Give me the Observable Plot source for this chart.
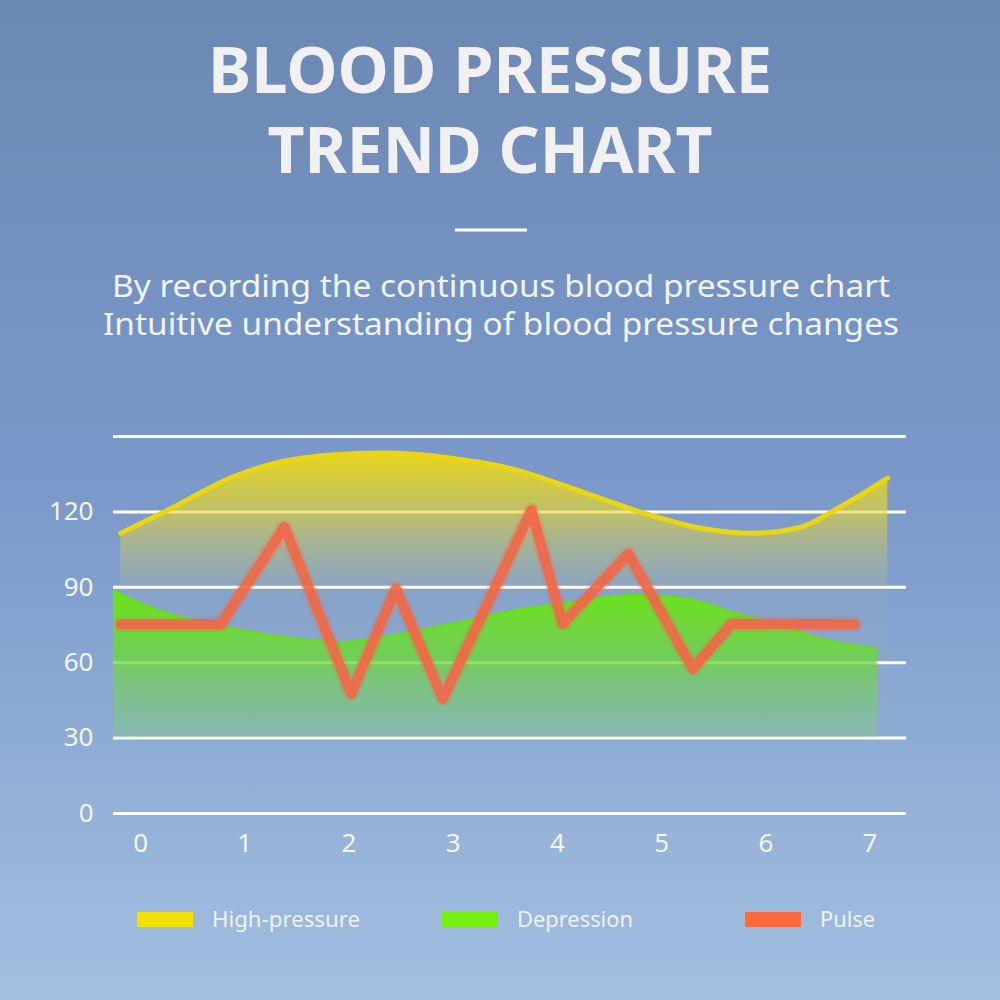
<!DOCTYPE html>
<html><head><meta charset="utf-8">
<script src="https://cdn.jsdelivr.net/npm/d3@7"></script>
<script src="https://cdn.jsdelivr.net/npm/@observablehq/plot@0.6"></script>
<style>
html,body{margin:0;padding:0;}
body{width:1000px;height:1000px;position:relative;overflow:hidden;
 background:linear-gradient(180deg,#6c88b4 0%,#7b9acb 50%,#a4bfdf 100%);
 font-family:"Noto Sans","Noto Sans CJK SC",sans-serif;}
#overlay{position:absolute;left:0;top:0;}
#chart{position:absolute;left:0;top:400px;}
</style></head><body>
<svg id="overlay" width="1000" height="1000" font-family="Noto Sans, Noto Sans CJK SC, sans-serif">
 <text x="490" y="93" text-anchor="middle" font-size="65" font-weight="700" fill="#f1f1f3" textLength="564" lengthAdjust="spacingAndGlyphs">BLOOD PRESSURE</text>
 <text x="490" y="173" text-anchor="middle" font-size="65" font-weight="700" fill="#f1f1f3" textLength="445" lengthAdjust="spacingAndGlyphs">TREND CHART</text>
 <line x1="455" x2="527" y1="230" y2="230" stroke="#ffffff" stroke-width="3"/>
 <text x="501" y="297" text-anchor="middle" font-size="30" fill="#f1f3f7" textLength="778" lengthAdjust="spacingAndGlyphs">By recording the continuous blood pressure chart</text>
 <text x="501" y="335" text-anchor="middle" font-size="30" fill="#f1f3f7" textLength="796" lengthAdjust="spacingAndGlyphs">Intuitive understanding of blood pressure changes</text>
 <g id="legend"></g>
</svg>
<div id="chart"></div>
<script>
// ---- data ----
const xTicks = [0, 1, 2, 3, 4, 5, 6, 7];
const yTicks = [0, 30, 60, 90, 120];
const gridValues = [0, 30, 60, 90, 120, 150];

const highX = [-0.19, 0.26, 0.89, 1.54, 2.33, 2.98, 3.55, 4.1, 4.74, 5.38, 5.86, 6.34, 6.66, 7.17];
const highY = [111.5, 120.7, 134, 141.4, 143.4, 141.4, 137.3, 130, 120.7, 113.5, 111.5, 114, 120.7, 133.4];

const lowX = [-0.26, 0.1, 0.74, 1.38, 1.92, 2.5, 3.14, 3.6, 4.1, 4.74, 5.22, 5.7, 6.18, 6.66, 7.07];
const lowY = [88.8, 82, 74.9, 70.2, 68.2, 71.6, 76.9, 81, 84, 86.9, 85.6, 80, 74.2, 68.2, 65.7];

const pulseX = [-0.19, 0.77, 1.38, 2.02, 2.45, 2.90, 3.75, 4.05, 4.68, 5.30, 5.67, 6.85];
const pulseY = [75.3, 75.3, 114, 47.7, 89.5, 45.6, 120.7, 75.5, 103.4, 57.6, 75.5, 75.3];

const baseValue = 30;

const legendLabels = ["High-pressure", "Depression", "Pulse"];
const legendColors = ["#f2e000", "#77ee11", "#ff6a3d"];

// ---- tables ----
const high = highX.map((x, i) => ({x, y: highY[i]}));
const low = lowX.map((x, i) => ({x, y: lowY[i]}));
const pulse = pulseX.map((x, i) => ({x, y: pulseY[i]}));

const defs = () => {
  const d = d3.create("svg:defs");
  const g1 = d.append("linearGradient").attr("id", "hpGrad")
    .attr("x1", 0).attr("x2", 0).attr("y1", 0).attr("y2", 1);
  g1.append("stop").attr("offset", 0).attr("stop-color", "#ecd912").attr("stop-opacity", 0.95);
  g1.append("stop").attr("offset", 0.22).attr("stop-color", "#e8d630").attr("stop-opacity", 0.6);
  g1.append("stop").attr("offset", 0.5).attr("stop-color", "#d8d060").attr("stop-opacity", 0.05);
  g1.append("stop").attr("offset", 1).attr("stop-color", "#d8d060").attr("stop-opacity", 0);
  const g2 = d.append("linearGradient").attr("id", "lpGrad")
    .attr("x1", 0).attr("x2", 0).attr("y1", 0).attr("y2", 1);
  g2.append("stop").attr("offset", 0).attr("stop-color", "#6ce418").attr("stop-opacity", 1);
  g2.append("stop").attr("offset", 0.45).attr("stop-color", "#6cd83a").attr("stop-opacity", 0.8);
  g2.append("stop").attr("offset", 1).attr("stop-color", "#7ccf70").attr("stop-opacity", 0.3);
  return d.node();
};

const plot = Plot.plot({
  width: 1000,
  height: 470,
  marginLeft: 113,
  marginRight: 94,
  marginTop: 36,
  marginBottom: 57,
  style: {background: "transparent", fontFamily: "Noto Sans, Noto Sans CJK SC, sans-serif", fontSize: "26px", color: "#f3f5f9", overflow: "visible"},
  x: {domain: [-0.26, 7.35], ticks: xTicks, tickSize: 0, tickPadding: 20, label: null, tickFormat: d => d},
  y: {domain: [0, 150], ticks: yTicks, tickSize: 0, tickPadding: 20, label: null},
  marks: [
    defs,
    Plot.ruleY(gridValues, {stroke: "#ffffff", strokeWidth: 3}),
    Plot.areaY(high, {x: "x", y1: baseValue, y2: "y", curve: "monotone-x", fill: "url(#hpGrad)"}),
    Plot.line(high, {x: "x", y: "y", curve: "monotone-x", stroke: "#e9d512", strokeWidth: 5, strokeLinecap: "round"}),
    Plot.areaY(low, {x: "x", y1: baseValue, y2: "y", curve: "monotone-x", fill: "url(#lpGrad)"}),
    Plot.line(low, {x: "x", y: "y", curve: "monotone-x", stroke: "#66e012", strokeWidth: 2}),
    Plot.line(pulse, {x: "x", y: "y", stroke: "#f06848", strokeWidth: 15, strokeOpacity: 0.25, strokeLinecap: "round", strokeLinejoin: "round"}),
    Plot.line(pulse, {x: "x", y: "y", stroke: "#f06848", strokeWidth: 10, strokeOpacity: 0.92, strokeLinecap: "round", strokeLinejoin: "round"})
  ]
});
document.getElementById("chart").appendChild(plot);

// ---- legend ----
const legendX = [137, 442, 745];
const legendW = [148, 116, 55];
const lg = d3.select("#legend");
legendLabels.forEach((label, i) => {
  lg.append("rect").attr("x", legendX[i]).attr("y", 912).attr("width", 56).attr("height", 15).attr("fill", legendColors[i]);
  lg.append("text").attr("x", legendX[i] + 75).attr("y", 927).attr("font-size", 21).attr("fill", "#eef2f8")
    .attr("textLength", legendW[i]).attr("lengthAdjust", "spacingAndGlyphs").text(label);
});
</script>
</body></html>
